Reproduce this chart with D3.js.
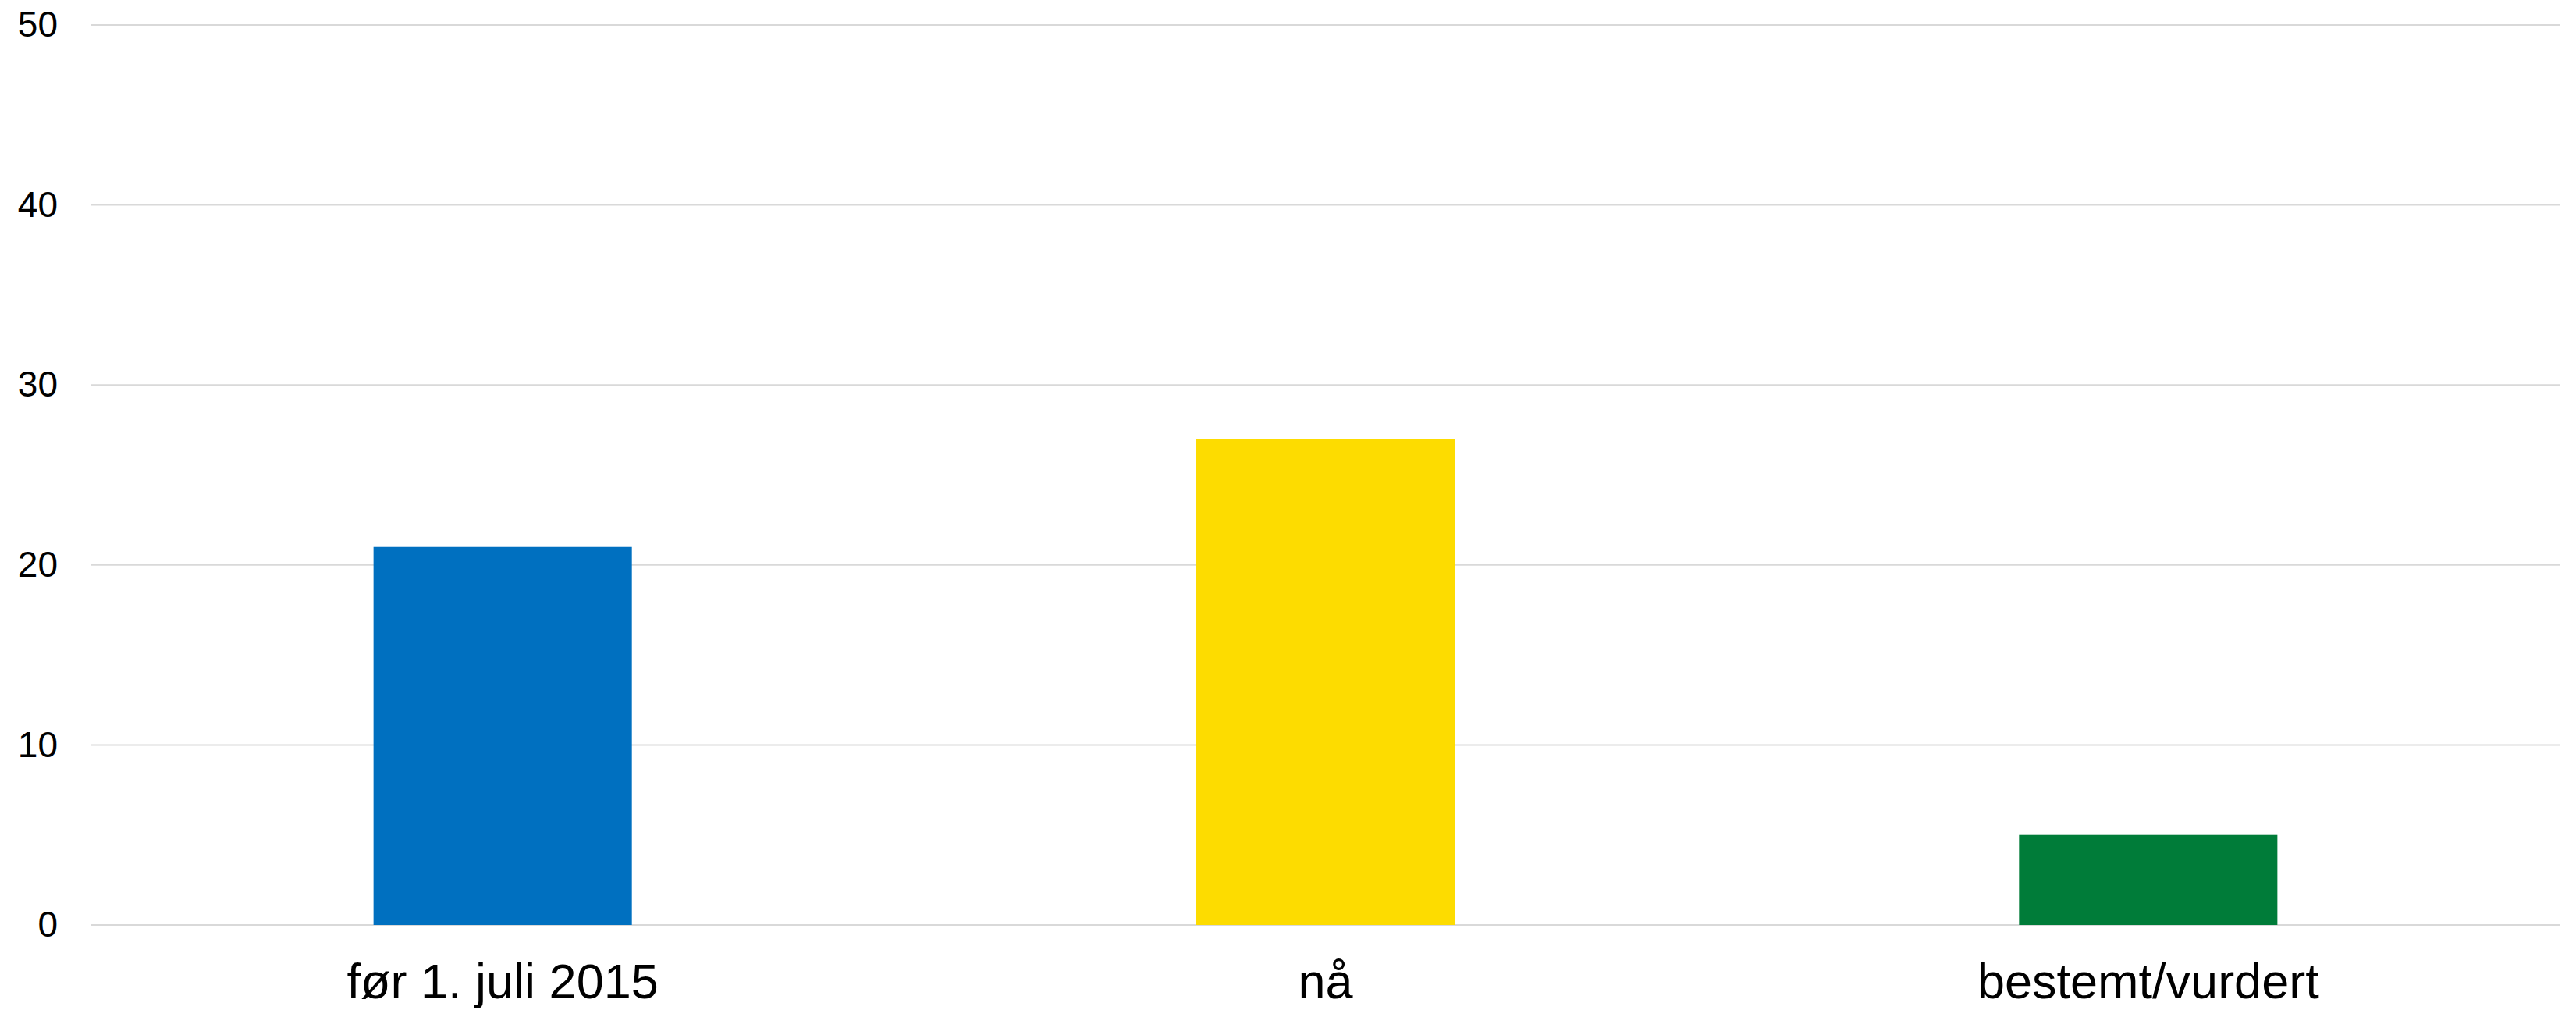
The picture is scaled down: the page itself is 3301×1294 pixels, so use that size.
<!DOCTYPE html>
<html>
<head>
<meta charset="utf-8">
<script src="https://cdn.jsdelivr.net/npm/d3@7"></script>
<style>
  html, body { margin: 0; padding: 0; background: #fff; }
  svg { display: block; }
</style>
</head>
<body>
<div id="chart"></div>
<script>
const categories = ["før 1. juli 2015", "nå", "bestemt/vurdert"];
const values = [21, 27, 5];
const barColors = ["#0070c0", "#fddc00", "#007c39"];
const yTicks = [0, 10, 20, 30, 40, 50];

const W = 3301, H = 1294;
const margin = { left: 117, right: 21, top: 32, bottom: 109 };

const svg = d3.select("#chart").append("svg")
  .attr("width", W).attr("height", H);

const x = d3.scaleBand()
  .domain(categories)
  .range([margin.left, W - margin.right])
  .paddingInner(0.686)
  .paddingOuter(0.343);

const y = d3.scaleLinear()
  .domain([0, 50])
  .range([H - margin.bottom, margin.top]);

// gridlines
svg.append("g").selectAll("line")
  .data(yTicks)
  .join("line")
  .attr("x1", margin.left)
  .attr("x2", W - margin.right)
  .attr("y1", d => y(d))
  .attr("y2", d => y(d))
  .attr("stroke", "#d9d9d9")
  .attr("stroke-width", 2);

// y axis labels
const yAxis = d3.axisLeft(y).tickValues(yTicks).tickSize(0).tickPadding(0);
const gy = svg.append("g")
  .attr("transform", `translate(74,0)`)
  .call(yAxis);
gy.select(".domain").remove();
gy.selectAll("text")
  .attr("font-family", "'Liberation Sans', Arial, sans-serif")
  .attr("font-size", 46)
  .attr("fill", "#000");

// bars
svg.append("g").selectAll("rect")
  .data(categories)
  .join("rect")
  .attr("x", d => x(d))
  .attr("width", x.bandwidth())
  .attr("y", (d, i) => y(values[i]))
  .attr("height", (d, i) => y(0) - y(values[i]))
  .attr("fill", (d, i) => barColors[i]);

// x axis labels
const xAxis = d3.axisBottom(x).tickSize(0).tickPadding(0);
const gx = svg.append("g")
  .attr("transform", `translate(0,${y(0)})`)
  .call(xAxis);
gx.select(".domain").remove();
gx.selectAll("text")
  .attr("font-family", "'Liberation Sans', Arial, sans-serif")
  .attr("font-size", 63)
  .attr("fill", "#000")
  .attr("dy", null)
  .attr("y", 94);
</script>
</body>
</html>
